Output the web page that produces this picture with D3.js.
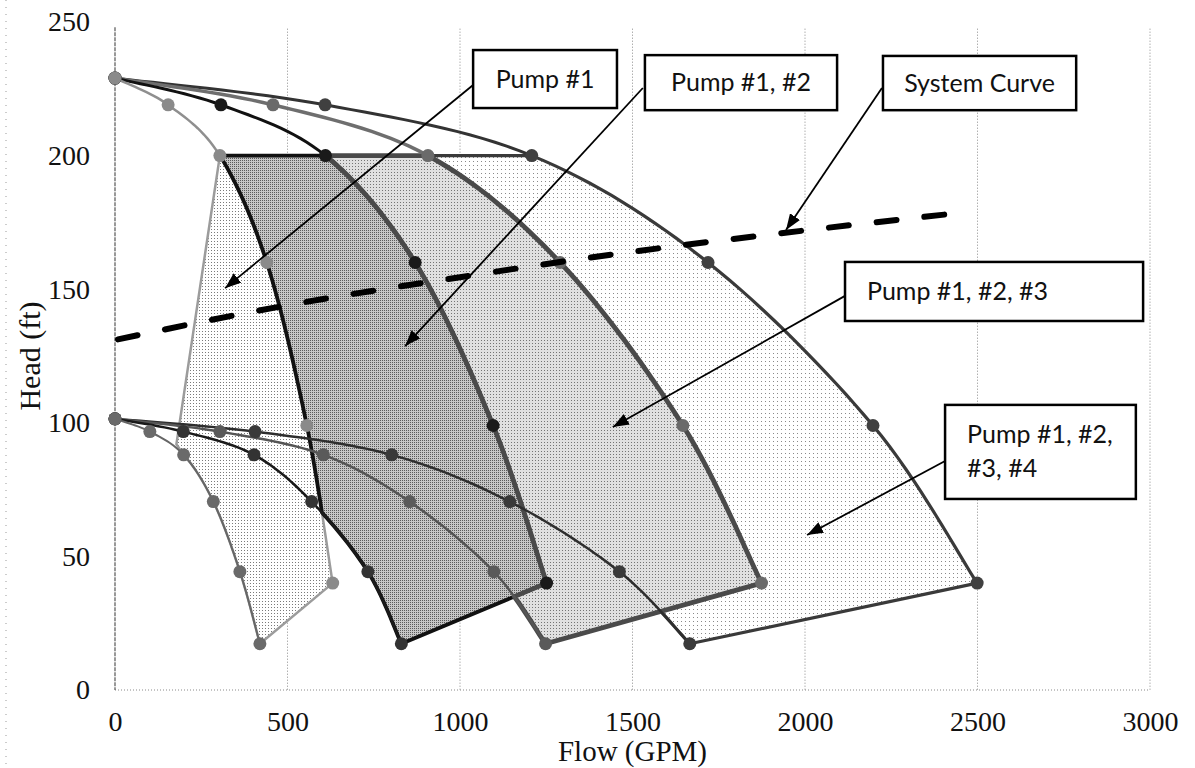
<!DOCTYPE html>
<html>
<head>
<meta charset="utf-8">
<script src="https://cdn.jsdelivr.net/npm/d3@7"></script>
<style>
  body { margin: 0; background: #fff; }
  .serif { font-family: "Liberation Serif", "Times New Roman", serif; }
</style>
</head>
<body>
<script>
// pump curves (flow in GPM, head in ft)
// max speed curves share the same head values, one flow array per pump count
const maxHead  = [229, 219, 200, 160, 99, 40];
const max1Flow = [0, 154, 304, 440, 556, 631];
const max2Flow = [0, 307, 610, 870, 1096, 1251];
const max3Flow = [0, 458, 907, 1290, 1646, 1874];
const max4Flow = [0, 609, 1208, 1719, 2197, 2499];

// min speed curves
const minHead  = [101.5, 96.7, 88, 70.5, 44.3, 17.3];
const min1Flow = [0, 101, 199, 285, 362, 420];
const min2Flow = [0, 198, 403, 570, 733, 830];
const min3Flow = [0, 304, 604, 854, 1098, 1248];
const min4Flow = [0, 406, 802, 1144, 1462, 1666];

// left edge of the single pump area
const edgeFlow = [304, 178];
const edgeHead = [200, 92];

// system curve (dashed)
const sysFlow = [0, 500, 1000, 1500, 2000, 2480];
const sysHead = [131, 144, 154.5, 164, 172, 179];

const xTicks = [0, 500, 1000, 1500, 2000, 2500, 3000];
const yTicks = [0, 50, 100, 150, 200, 250];

const noteText = [["Pump #1"], ["Pump #1, #2"], ["System Curve"], ["Pump #1, #2, #3"], ["Pump #1, #2,", "#3, #4"]];

var width = 1195, height = 768;
var serif = "'Liberation Serif', 'Times New Roman', serif";

var x = d3.scaleLinear().domain([0, 3000]).range([115, 1150]);
var y = d3.scaleLinear().domain([0, 250]).range([690, 22]);

var svg = d3.select("body").append("svg")
    .attr("width", width)
    .attr("height", height);

// fill textures
var defs = svg.append("defs");
function dotPattern(id, size, base, dot, pts) {
    var p = defs.append("pattern").attr("id", id)
        .attr("width", size).attr("height", size)
        .attr("patternUnits", "userSpaceOnUse");
    p.append("rect").attr("width", size).attr("height", size).attr("fill", base);
    pts.forEach(function (d) {
        p.append("rect").attr("x", d[0]).attr("y", d[1]).attr("width", 1).attr("height", 1).attr("fill", dot);
    });
}
dotPattern("p1", 3, "#ffffff", "#7a7a7a", [[1, 1]]);
dotPattern("p2", 2, "#c6c6c6", "#5a5a5a", [[0, 0]]);
dotPattern("p3", 3, "#e0e0e0", "#747474", [[1, 1]]);
dotPattern("p4", 4, "#ffffff", "#8a8a8a", [[1, 1]]);

defs.append("marker").attr("id", "head")
    .attr("viewBox", "0 0 16 12").attr("refX", 16).attr("refY", 6)
    .attr("markerWidth", 16).attr("markerHeight", 12)
    .attr("markerUnits", "userSpaceOnUse").attr("orient", "auto")
  .append("path").attr("d", "M0,0L16,6L0,12Z").attr("fill", "#000");

// grid & frame
var grid = svg.append("g");
xTicks.slice(1).forEach(function (v) {
    grid.append("line")
        .attr("x1", x(v)).attr("x2", x(v)).attr("y1", y(247.5)).attr("y2", y(0))
        .attr("stroke", "#8a8a8a").attr("stroke-dasharray", "1,2");
});
grid.append("line")
    .attr("x1", x(0)).attr("x2", x(3000)).attr("y1", y(0)).attr("y2", y(0))
    .attr("stroke", "#8a8a8a").attr("stroke-dasharray", "1,2");
grid.append("line")
    .attr("x1", x(0)).attr("x2", x(0)).attr("y1", y(248)).attr("y2", y(0))
    .attr("stroke", "#555").attr("stroke-width", 1.2).attr("stroke-dasharray", "4,1");
// scan edge
grid.append("line")
    .attr("x1", 6).attr("x2", 6).attr("y1", 0).attr("y2", height)
    .attr("stroke", "#999").attr("stroke-dasharray", "1,6");

// helpers
var K = 16;
function toPx(flow, head) {
    return flow.map(function (q, i) { return [x(q), y(head[i])]; });
}
function smooth(pts) {
    var out = [];
    for (var i = 0; i < pts.length - 1; i++) {
        var p0 = pts[i - 1] || pts[i], p1 = pts[i], p2 = pts[i + 1], p3 = pts[i + 2] || pts[i + 1];
        for (var s = 0; s < K; s++) {
            var t = s / K, t2 = t * t, t3 = t2 * t;
            out.push([0, 1].map(function (c) {
                return 0.5 * (2 * p1[c] + (p2[c] - p0[c]) * t +
                    (2 * p0[c] - 5 * p1[c] + 4 * p2[c] - p3[c]) * t2 +
                    (3 * p1[c] - p0[c] - 3 * p2[c] + p3[c]) * t3);
            }));
        }
    }
    out.push(pts[pts.length - 1]);
    return out;
}
function segCross(a, b, c, d) {
    var rx = b[0] - a[0], ry = b[1] - a[1], sx = d[0] - c[0], sy = d[1] - c[1];
    var den = rx * sy - ry * sx;
    if (Math.abs(den) < 1e-9) return null;
    var t = ((c[0] - a[0]) * sy - (c[1] - a[1]) * sx) / den;
    var u = ((c[0] - a[0]) * ry - (c[1] - a[1]) * rx) / den;
    if (t < 0 || t > 1 || u < 0 || u > 1) return null;
    return [a[0] + t * rx, a[1] + t * ry];
}
function firstCross(A, B) {
    for (var i = 0; i < A.length - 1; i++)
        for (var j = 0; j < B.length - 1; j++) {
            var p = segCross(A[i], A[i + 1], B[j], B[j + 1]);
            if (p) return {i: i, j: j, p: p};
        }
    return null;
}

var maxFlows = [max1Flow, max2Flow, max3Flow, max4Flow];
var minFlows = [min1Flow, min2Flow, min3Flow, min4Flow];
var maxD = maxFlows.map(function (f) { return smooth(toPx(f, maxHead)); });
var minD = minFlows.map(function (f) { return smooth(toPx(f, minHead)); });

// operating areas
var areas = [];
var edge = toPx(edgeFlow, edgeHead);
areas.push(maxD[0].slice(2 * K).concat(minD[0].slice(2 * K).reverse(), edge.slice(1).reverse()));
for (var n = 1; n < 4; n++) {
    var prev = maxD[n - 1].slice(2 * K).concat([minD[n - 1][minD[n - 1].length - 1]]);
    var rev = minD[n].slice().reverse();
    var c = firstCross(rev, prev);
    areas.push(maxD[n].slice(2 * K).concat(rev.slice(0, c.i + 1), [c.p], prev.slice(0, c.j + 1).reverse()));
}

var areaStyle = [
    {fill: "url(#p1)", stroke: "#9c9c9c", w: 2.5},
    {fill: "url(#p2)", stroke: "#111", w: 3.8},
    {fill: "url(#p3)", stroke: "#4a4a4a", w: 4.8},
    {fill: "url(#p4)", stroke: "#3a3a3a", w: 3.2}
];
var line = d3.line();

var gArea = svg.append("g");
areas.forEach(function (a, i) {
    gArea.append("path").attr("d", line(a) + "Z")
        .attr("fill", areaStyle[i].fill).attr("stroke", "none");
});
[3, 0, 1, 2].forEach(function (i) {
    gArea.append("path").attr("d", line(areas[i]) + "Z")
        .attr("fill", "none").attr("stroke", areaStyle[i].stroke)
        .attr("stroke-width", areaStyle[i].w).attr("stroke-linejoin", "round");
});

// min speed curves and upper parts of max speed curves
var minStyle = [["#666", 2], ["#1a1a1a", 2.5], ["#555", 2.5], ["#2e2e2e", 2.5]];
var maxStyle = [["#8f8f8f", 2.5], ["#111", 3], ["#6e6e6e", 3.5], ["#333", 3]];
var gLines = svg.append("g").attr("fill", "none");
[3, 2, 1, 0].forEach(function (i) {
    gLines.append("path").attr("d", line(minD[i]))
        .attr("stroke", minStyle[i][0]).attr("stroke-width", minStyle[i][1]);
});
[3, 2, 1, 0].forEach(function (i) {
    gLines.append("path").attr("d", line(maxD[i].slice(0, 2 * K + 1)))
        .attr("stroke", maxStyle[i][0]).attr("stroke-width", maxStyle[i][1]);
});

// markers
var maxDot = ["#8a8a8a", "#1a1a1a", "#6a6a6a", "#404040"];
var minDot = ["#6a6a6a", "#333", "#5a5a5a", "#3a3a3a"];
var gDots = svg.append("g");
[3, 2, 1, 0].forEach(function (i) {
    gDots.selectAll(null).data(minFlows[i].map(function (q, k) { return [q, minHead[k]]; }))
        .enter().append("circle")
        .attr("cx", function (d) { return x(d[0]); })
        .attr("cy", function (d) { return y(d[1]); })
        .attr("r", 6.5).attr("fill", minDot[i]);
    gDots.selectAll(null).data(maxFlows[i].map(function (q, k) { return [q, maxHead[k]]; }))
        .enter().append("circle")
        .attr("cx", function (d) { return x(d[0]); })
        .attr("cy", function (d) { return y(d[1]); })
        .attr("r", 6.5).attr("fill", maxDot[i]);
});

// system curve
svg.append("path")
    .datum(sysFlow.map(function (q, i) { return [q, sysHead[i]]; }))
    .attr("d", d3.line().x(function (d) { return x(d[0]); }).y(function (d) { return y(d[1]); }).curve(d3.curveMonotoneX))
    .attr("fill", "none").attr("stroke", "#000").attr("stroke-width", 6)
    .attr("stroke-linecap", "round").attr("stroke-dasharray", "20,28").attr("stroke-dashoffset", -3);

// axes
var xAxis = svg.append("g").attr("transform", "translate(0," + y(0) + ")")
    .call(d3.axisBottom(x).tickValues(xTicks).tickFormat(d3.format("d")).tickSize(0).tickPadding(21));
var yAxis = svg.append("g").attr("transform", "translate(" + x(0) + ",0)")
    .call(d3.axisLeft(y).tickValues(yTicks).tickFormat(d3.format("d")).tickSize(0).tickPadding(25));
[xAxis, yAxis].forEach(function (a) {
    a.select(".domain").remove();
    a.attr("font-family", serif).attr("font-size", 28);
    a.selectAll("text").attr("class", "serif").attr("fill", "#111")
        .style("font-family", serif)
        .style("font-size", "28px");
});

svg.append("text")
    .attr("class", "serif")
    .attr("x", (x(0) + x(3000)) / 2).attr("y", 761)
    .attr("text-anchor", "middle")
    .style("font-family", serif)
    .style("font-size", "29px").attr("fill", "#111")
    .text("Flow (GPM)");
svg.append("text")
    .attr("class", "serif")
    .attr("transform", "translate(40," + (y(0) + y(250)) / 2 + ") rotate(-90)")
    .attr("text-anchor", "middle")
    .style("font-family", serif)
    .style("font-size", "30px").attr("fill", "#111")
    .text("Head (ft)");

// call-outs: box in data units [flow0, flow1, headTop, headBottom], arrow tail & tip
var notes = [
    {box: [1038, 1455, 239.5, 217.8], from: [1038, 226.4], to: [319, 150.4], align: "middle"},
    {box: [1536, 2093, 237.6, 217], from: [1530, 225.3], to: [841, 128.7], align: "middle"},
    {box: [2226, 2786, 237.3, 217], from: [2223, 225.3], to: [1945, 172.2], align: "middle"},
    {box: [2116, 2980, 160.2, 138.1], from: [2116, 147.5], to: [1443, 98.4], align: "start"},
    {box: [2406, 2959, 106.7, 71.5], from: [2406, 85.7], to: [2006, 58], align: "start"}
];
var gNotes = svg.append("g");
notes.forEach(function (d, i) {
    gNotes.append("line")
        .attr("x1", x(d.from[0])).attr("y1", y(d.from[1]))
        .attr("x2", x(d.to[0])).attr("y2", y(d.to[1]))
        .attr("stroke", "#000").attr("stroke-width", 1.8)
        .attr("marker-end", "url(#head)");
});
notes.forEach(function (d, i) {
    var x0 = x(d.box[0]), x1 = x(d.box[1]), y0 = y(d.box[2]), y1 = y(d.box[3]);
    gNotes.append("rect")
        .attr("x", x0).attr("y", y0).attr("width", x1 - x0).attr("height", y1 - y0)
        .attr("fill", "#fff").attr("stroke", "#000").attr("stroke-width", 2.5);
    var lines = noteText[i];
    var cy = (y0 + y1) / 2;
    lines.forEach(function (t, k) {
        gNotes.append("text")
            .attr("x", d.align === "middle" ? (x0 + x1) / 2 : x0 + 22)
            .attr("y", cy + 8.5 + (k - (lines.length - 1) / 2) * 34)
            .attr("text-anchor", d.align)
            .style("font-family", "Lato, 'Open Sans', sans-serif")
            .style("font-size", "25px").attr("fill", "#111")
            .text(t);
    });
});
</script>
</body>
</html>
